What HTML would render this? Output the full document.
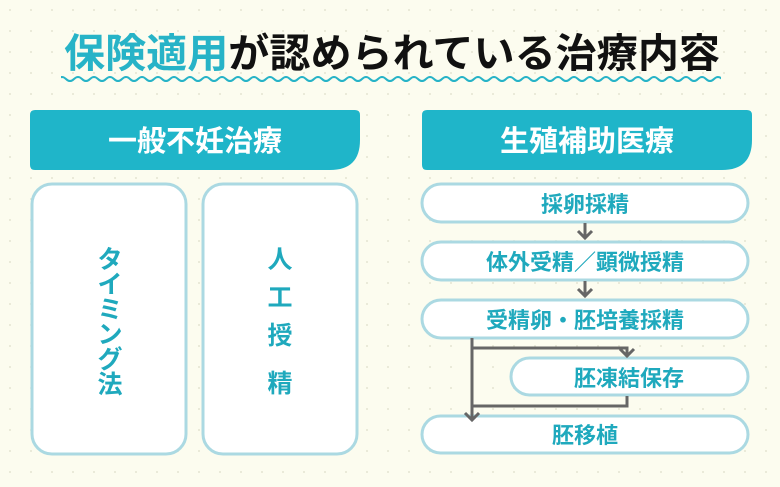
<!DOCTYPE html>
<html><head><meta charset="utf-8"><style>
body{margin:0;width:780px;height:487px;overflow:hidden;background:#fcfcef}
svg{display:block}
text{font-family:"Liberation Sans","Noto Sans CJK JP",sans-serif}
</style></head><body>
<svg width="780" height="487" viewBox="0 0 780 487">
<defs>
<pattern id="d" width="21" height="21" patternUnits="userSpaceOnUse"><circle cx="10" cy="10" r="1" fill="#e4e4d2"/></pattern>
<clipPath id="c"><rect x="61" y="60" width="660" height="30"/></clipPath>
</defs>
<rect width="780" height="487" fill="#fcfcef"/>
<rect width="780" height="487" fill="url(#d)"/>
<text x="64" y="67" font-size="40" font-weight="bold" fill="#27b3c7" textLength="656" lengthAdjust="spacingAndGlyphs">保険適用<tspan fill="#111">が認められている治療内容</tspan></text>
<path clip-path="url(#c)" d="M42 79 q4 -4 8 0 t8 0 t8 0 t8 0 t8 0 t8 0 t8 0 t8 0 t8 0 t8 0 t8 0 t8 0 t8 0 t8 0 t8 0 t8 0 t8 0 t8 0 t8 0 t8 0 t8 0 t8 0 t8 0 t8 0 t8 0 t8 0 t8 0 t8 0 t8 0 t8 0 t8 0 t8 0 t8 0 t8 0 t8 0 t8 0 t8 0 t8 0 t8 0 t8 0 t8 0 t8 0 t8 0 t8 0 t8 0 t8 0 t8 0 t8 0 t8 0 t8 0 t8 0 t8 0 t8 0 t8 0 t8 0 t8 0 t8 0 t8 0 t8 0 t8 0 t8 0 t8 0 t8 0 t8 0 t8 0 t8 0 t8 0 t8 0 t8 0 t8 0 t8 0 t8 0 t8 0 t8 0 t8 0 t8 0 t8 0 t8 0 t8 0 t8 0 t8 0 t8 0 t8 0 t8 0 t8 0 t8 0 t8 0 t8 0 t8 0 t8 0 t8 0 t8 0 t8 0 t8 0" fill="none" stroke="#27b3c7" stroke-width="2"/>
<path d="M35 110 H355 Q360 110 360 115 V140 Q360 170 330 170 H35 Q30 170 30 165 V115 Q30 110 35 110Z" fill="#1fb5c9"/>
<path d="M427 110 H747 Q752 110 752 115 V140 Q752 170 722 170 H427 Q422 170 422 165 V115 Q422 110 427 110Z" fill="#1fb5c9"/>
<text x="195" y="151" font-size="29" fill="#fff" text-anchor="middle" font-weight="bold">一般不妊治療</text>
<text x="587" y="151" font-size="29" fill="#fff" text-anchor="middle" font-weight="bold">生殖補助医療</text>
<g fill="#fff" stroke="#abd9e2" stroke-width="3">
<rect x="32" y="184" width="154" height="270" rx="20"/>
<rect x="203" y="184" width="154" height="270" rx="20"/>
<rect x="422" y="184" width="326" height="38" rx="19"/>
<rect x="422" y="242" width="326" height="38" rx="19"/>
<rect x="422" y="300" width="326" height="38" rx="19"/>
<rect x="511" y="358" width="237" height="37" rx="18.5"/>
<rect x="422" y="416" width="326" height="37" rx="18.5"/>
</g>
<g font-size="25" fill="#1fa9bd" text-anchor="middle" font-weight="bold">
<text x="110" y="268">タ</text><text x="110" y="293">イ</text><text x="110" y="318">ミ</text><text x="110" y="343">ン</text><text x="110" y="368">グ</text><text x="110" y="393">法</text>
<text x="280" y="268">人</text><text x="280" y="306">工</text><text x="280" y="344">授</text><text x="280" y="392">精</text>
</g>
<g font-size="22" fill="#1fa9bd" text-anchor="middle" font-weight="bold">
<text x="585" y="212">採卵採精</text>
<text x="585" y="270">体外受精／顕微授精</text>
<text x="585" y="328">受精卵・胚培養採精</text>
<text x="629" y="386">胚凍結保存</text>
<text x="585" y="443">胚移植</text>
</g>
<g fill="none" stroke="#666" stroke-width="3">
<path d="M585 223 V238 M578 231 l7 7 7-7"/>
<path d="M585 281 V296 M578 289 l7 7 7-7"/>
<path d="M472 338 V420 M465 413 l7 7 7-7"/>
<path d="M472 348 H627 V356 M620 349 l7 7 7-7"/>
<path d="M627 396 V406 H472"/>
</g>
</svg>
</body></html>
